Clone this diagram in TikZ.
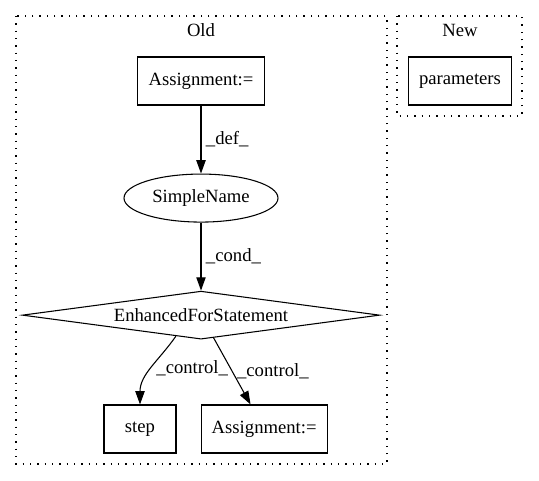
\documentclass[tikz,border=0pt]{standalone}
\usepackage{fontspec}
\setmainfont{Liberation Serif}
\usetikzlibrary{shapes.geometric, positioning, arrows.meta}

\begin{document}
\begin{tikzpicture}[->,>={Triangle[length=10pt,width=7pt]},x=0.75pt,y=-0.75pt,node distance=51pt,line width=0.8pt]

	\tikzstyle{every node}=[font=\fontsize{14}{16}\selectfont]
	\tikzstyle{stmt box}=[rectangle,draw,minimum width=54pt,minimum height=36pt,inner xsep=8pt,inner ysep=0pt]
	\tikzstyle{name oval}=[ellipse,draw,minimum width=115.5pt,minimum height=36pt,inner sep=0pt]
	\tikzstyle{loop test}=[diamond,draw,aspect=7.4,minimum width=268pt,minimum height=36pt,inner sep=0pt]
	\tikzstyle{cluster}=[draw,-,dash pattern=on 1pt off 4.5pt]

	\useasboundingbox (0,0) rectangle (539,480);

	% clusters
	\draw[cluster] (16,16) rectangle (387,464);
	\draw[cluster] (397,16) rectangle (522,116);
	\node (OldLbl) at (201,30) {Old};
	\node (NewLbl) at (460,30) {New};

	\node[stmt box] (A1) at (201,81) {Assignment:=};
	\node[name oval] (SN) [below=of A1] {SimpleName};
	\node[loop test] (EFS) [below=of SN] {EnhancedForStatement};
	\node[stmt box] (St) at (140,429) {step};
	\node[stmt box] (A2) [right=18pt of St] {Assignment:=};
	\node[stmt box] (Par) at (460,81) {parameters};

	\path (A1) edge node [right] {\_def\_} (SN)
	(SN) edge node [right] {\_cond\_} (EFS)
	(EFS.-140) edge [out=-125,in=90] node [right,pos=0.5] {\_control\_} (St)
	(EFS) edge node [right] {\_control\_} (A2);

\end{tikzpicture}
\end{document}
